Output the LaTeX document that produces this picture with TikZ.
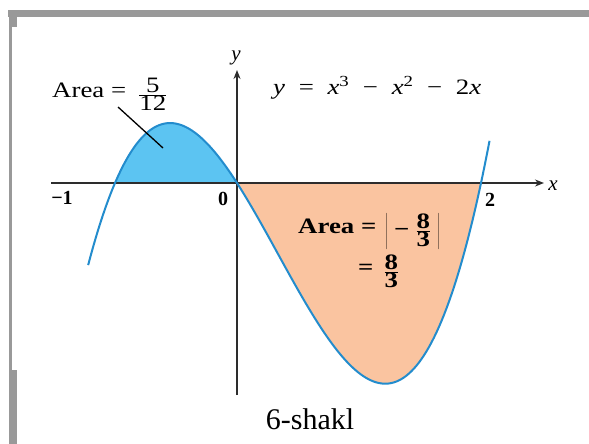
\documentclass[tikz,border=0pt]{standalone}
\usepackage{fontspec}
\setmainfont{Liberation Serif}
\newfontfamily\labelfont{Liberation Serif}[FakeStretch=1.22]
\usetikzlibrary{arrows.meta}
\definecolor{framegray}{RGB}{153,153,153}
\definecolor{areablue}{RGB}{92,196,242}
\definecolor{curveblue}{RGB}{35,140,205}
\definecolor{areaorange}{RGB}{250,196,160}
\definecolor{axisdark}{RGB}{45,45,45}
\tikzset{
  lbl/.style={inner sep=0pt, font=\fontsize{22}{24}\selectfont\labelfont},
  blbl/.style={inner sep=0pt, font=\fontsize{22}{24}\selectfont\labelfont\bfseries},
  numlbl/.style={inner sep=0pt, font=\fontsize{20}{22}\selectfont\bfseries},
  axislbl/.style={inner sep=0pt, font=\fontsize{21}{24}\selectfont\itshape},
  axisline/.style={draw=axisdark, line width=2.2pt, -{Stealth[length=9pt,width=7pt]}},
  curveline/.style={draw=curveblue, line width=2pt},
  pointer/.style={draw=black, line width=1.3pt}
}
\newcommand{\fr}[2]{\raisebox{-3.5pt}{\ensuremath{\frac{\mbox{#1}}{\mbox{#2}}}}}
\newcommand{\gp}{\hspace{0.62em}}
\begin{document}
\begin{tikzpicture}[x=1pt,y=-1pt]
\useasboundingbox (0,0) rectangle (589,444);
% frame
\fill[framegray] (8,10) rectangle (589,17);
\fill[framegray] (9,17) rectangle (12,370);
\fill[framegray] (9,17) rectangle (17,27);
\fill[framegray] (9,370) rectangle (17,444);
% areas
\fill[areablue] plot[domain=-1:0, samples=60] ({237+122*\x},{183-95*(\x*\x*\x-\x*\x-2*\x)}) -- cycle;
\fill[areaorange] plot[domain=0:2, samples=100] ({237+122*\x},{183-95*(\x*\x*\x-\x*\x-2*\x)}) -- cycle;
% axes
\coordinate (xs) at (51,183);
\coordinate (xe) at (544,183);
\coordinate (ys) at (237,395);
\coordinate (ye) at (237,70);
\draw[axisline] (xs) -- (xe);
\draw[axisline] (ys) -- (ye);
% curve
\draw[curveline] plot[domain=-1.22:2.07, samples=160] ({237+122*\x},{183-95*(\x*\x*\x-\x*\x-2*\x)});
% labels
\node[axislbl] (xl) at (553,186) {x};
\node[axislbl] (yl) at (236,58) {y};
\node[numlbl] (m1) at (62,198) {−1};
\node[numlbl] (z0) at (223,199) {0};
\node[numlbl] (t2) at (490,200) {2};
\node[lbl, anchor=base west] (eq) at (273,94) {\textit{y}\gp=\gp\textit{x}\textsuperscript{3}\gp−\gp\textit{x}\textsuperscript{2}\gp−\gp2\textit{x}};
\node[lbl, anchor=base west] (a1) at (52,97) {Area =\hspace{0.55em}\fr{5}{12}};
\coordinate (p1) at (163,148);
\draw[pointer] (118,107) -- (p1);
\node[blbl, anchor=base west] (a2) at (298,233) {Area =\hspace{0.4em}\raisebox{-3.5pt}{\ensuremath{\left|\;\mbox{−}\;\frac{\mbox{8}}{\mbox{3}}\;\right|}}};
\node[blbl, anchor=base west] (a3) at (358,274) {=\hspace{0.45em}\fr{8}{3}};
\node[inner sep=0pt, font=\fontsize{30}{34}\selectfont] (cap) at (310,419) {6-shakl};
\end{tikzpicture}
\end{document}
